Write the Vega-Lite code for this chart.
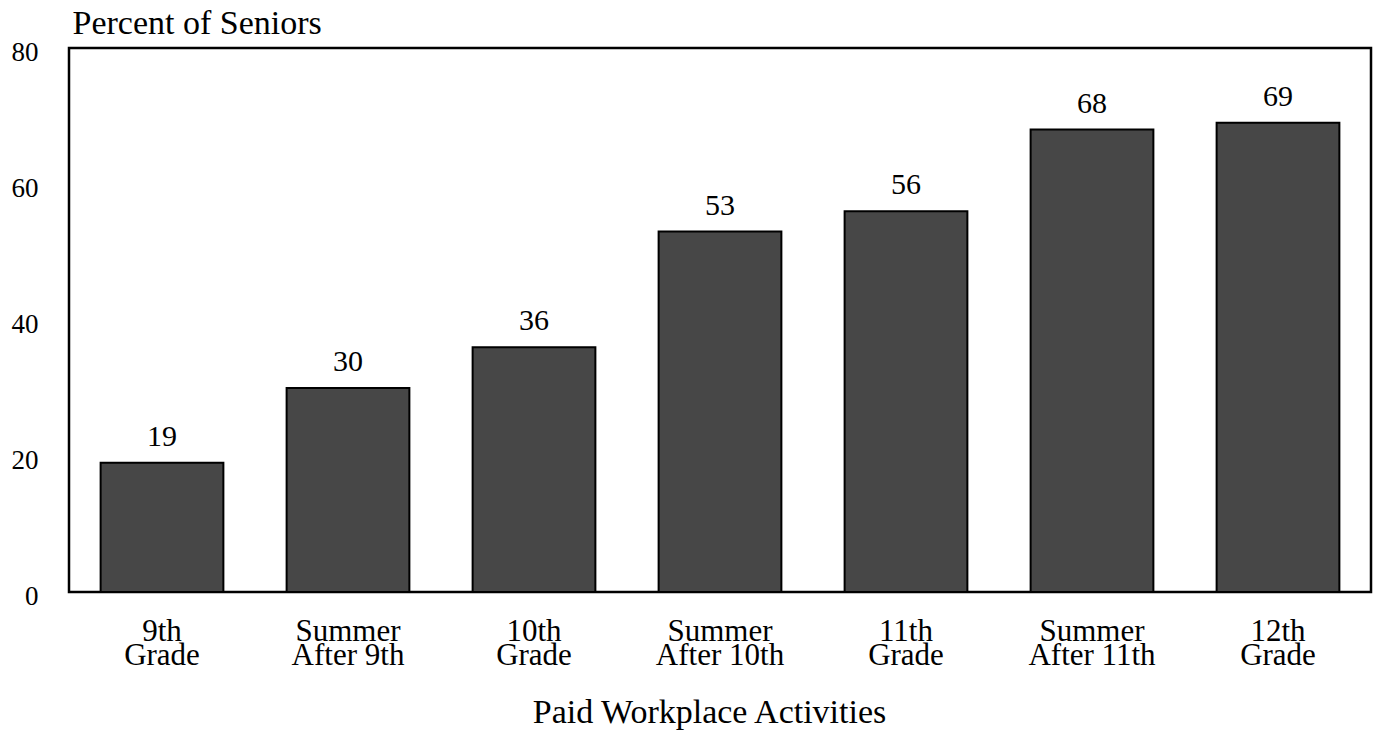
{
  "$schema": "https://vega.github.io/schema/vega-lite/v6.json",
  "width": 1302,
  "height": 544,
  "autosize": {"type": "none"},
  "padding": {"left": 69, "top": 48, "right": 6, "bottom": 147},
  "background": "white",
  "config": {
    "font": "Liberation Serif",
    "view": {"stroke": "black", "strokeWidth": 2.5}
  },
  "data": {
    "values": [
      {"activity": "9th\nGrade", "percent": 19},
      {"activity": "Summer\nAfter 9th", "percent": 30},
      {"activity": "10th\nGrade", "percent": 36},
      {"activity": "Summer\nAfter 10th", "percent": 53},
      {"activity": "11th\nGrade", "percent": 56},
      {"activity": "Summer\nAfter 11th", "percent": 68},
      {"activity": "12th\nGrade", "percent": 69}
    ]
  },
  "encoding": {
    "x": {
      "field": "activity",
      "type": "nominal",
      "sort": null,
      "scale": {"paddingInner": 0.34, "paddingOuter": 0.17},
      "axis": {
        "title": "Paid Workplace Activities",
        "titleFont": "Liberation Serif",
        "titleFontSize": 34,
        "titleFontWeight": "normal",
        "titleColor": "black",
        "titleBaseline": "alphabetic",
        "titleX": 640,
        "titleY": 130,
        "labelAngle": 0,
        "labelExpr": "split(datum.value, '\\n')",
        "labelFontSize": 31,
        "labelLineHeight": 24,
        "labelColor": "black",
        "labelPadding": 24,
        "labelBaseline": "top",
        "ticks": false,
        "domain": false
      }
    },
    "y": {
      "field": "percent",
      "type": "quantitative",
      "scale": {"domain": [0, 80]},
      "axis": {
        "values": [0, 20, 40, 60, 80],
        "title": "Percent of Seniors",
        "titleAngle": 0,
        "titleAlign": "left",
        "titleBaseline": "alphabetic",
        "titleX": 3,
        "titleY": -15,
        "titleFont": "Liberation Serif",
        "titleFontSize": 34,
        "titleFontWeight": "normal",
        "titleColor": "black",
        "labelFontSize": 27,
        "labelColor": "black",
        "labelPadding": 31,
        "labelOffset": 4,
        "ticks": false,
        "domain": false,
        "grid": false
      }
    }
  },
  "layer": [
    {
      "mark": {"type": "bar", "color": "#474747", "stroke": "black", "strokeWidth": 2}
    },
    {
      "mark": {"type": "text", "baseline": "alphabetic", "dy": -17, "fontSize": 30, "color": "black", "font": "Liberation Serif"},
      "encoding": {"text": {"field": "percent", "type": "quantitative"}}
    }
  ]
}
